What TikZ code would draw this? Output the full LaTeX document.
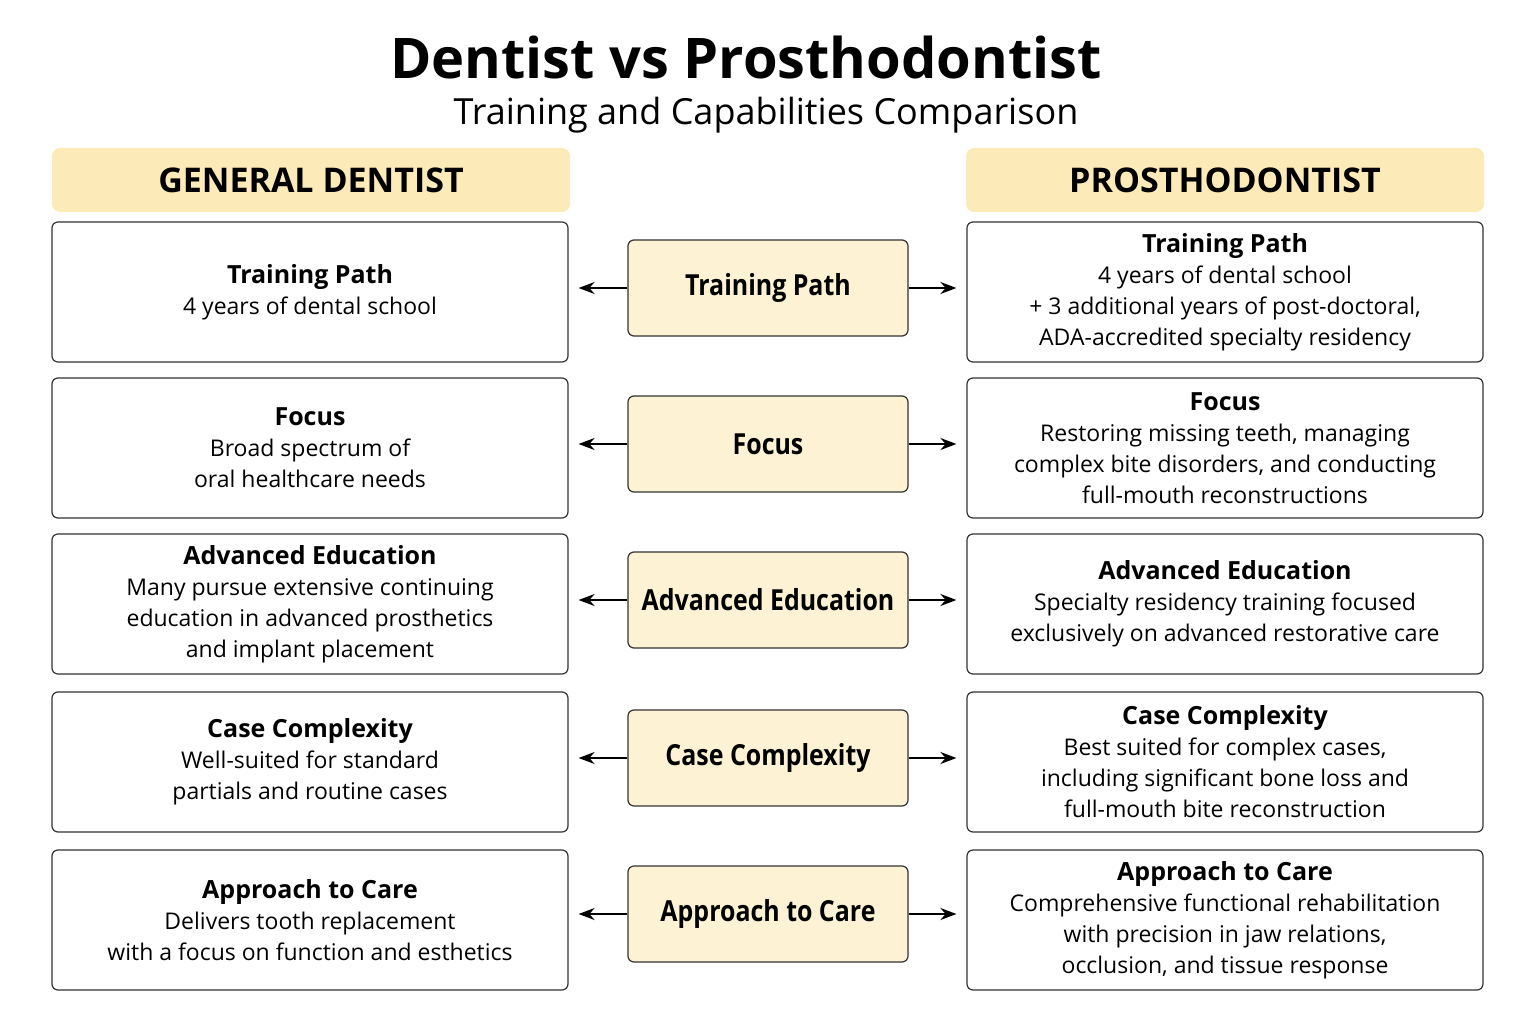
\documentclass[tikz,border=0pt]{standalone}
\usepackage{fontspec}
\setmainfont{Open Sans}
\usetikzlibrary{positioning, arrows.meta}
\definecolor{hdrfill}{HTML}{FCEAB8}
\definecolor{midfill}{HTML}{FDF2D4}
\definecolor{edge}{HTML}{333333}
\newcommand{\cond}[1]{\scalebox{0.86}[1]{#1}}
\begin{document}
\begin{tikzpicture}[x=1pt,y=-1pt,
  side/.style={draw=edge, line width=1.2pt, rounded corners=6pt, fill=white,
    minimum width=516pt, minimum height=140pt, align=center,
    font=\fontsize{23}{31}\selectfont},
  hdr/.style={fill=hdrfill, rounded corners=8pt, minimum width=518pt,
    minimum height=64pt, font=\fontsize{34}{40}\selectfont\bfseries},
  mid/.style={draw=edge, line width=1.2pt, rounded corners=6pt, fill=midfill,
    minimum width=280pt, minimum height=96pt, inner xsep=2pt,
    font=\fontsize{29}{34}\selectfont\bfseries},
  arr/.style={-{Stealth[length=16pt,width=12pt]}, line width=2pt, shorten >=10pt}]
\useasboundingbox (0,0) rectangle (1536,1024);
\fill[white] (0,0) rectangle (1536,1024);

\node (title) at (746,58) {\fontsize{56}{62}\selectfont\bfseries Dentist vs Prosthodontist};
\node (sub) at (766,115) {\fontsize{36}{42}\selectfont Training and Capabilities Comparison};

\node[hdr] (hl) at (311,180) {GENERAL DENTIST};
\node[hdr] (hr) at (1225,180) {PROSTHODONTIST};

% left column
\node[side] (L1) at (310,292) {\textbf{\fontsize{25}{31}\selectfont Training Path}\\4 years of dental school};
\node[side] (L2) at (310,448) {\textbf{\fontsize{25}{31}\selectfont Focus}\\Broad spectrum of\\oral healthcare needs};
\node[side] (L3) at (310,604) {\textbf{\fontsize{25}{31}\selectfont Advanced Education}\\Many pursue extensive continuing\\education in advanced prosthetics\\and implant placement};
\node[side] (L4) at (310,762) {\textbf{\fontsize{25}{31}\selectfont Case Complexity}\\Well-suited for standard\\partials and routine cases};
\node[side] (L5) at (310,920) {\textbf{\fontsize{25}{31}\selectfont Approach to Care}\\Delivers tooth replacement\\with a focus on function and esthetics};

% right column
\node[side] (R1) at (1225,292) {\textbf{\fontsize{25}{31}\selectfont Training Path}\\4 years of dental school\\+ 3 additional years of post-doctoral,\\ADA-accredited specialty residency};
\node[side] (R2) at (1225,448) {\textbf{\fontsize{25}{31}\selectfont Focus}\\Restoring missing teeth, managing\\complex bite disorders, and conducting\\full-mouth reconstructions};
\node[side] (R3) at (1225,604) {\textbf{\fontsize{25}{31}\selectfont Advanced Education}\\Specialty residency training focused\\exclusively on advanced restorative care};
\node[side] (R4) at (1225,762) {\textbf{\fontsize{25}{31}\selectfont Case Complexity}\\Best suited for complex cases,\\including significant bone loss and\\full-mouth bite reconstruction};
\node[side] (R5) at (1225,920) {\textbf{\fontsize{25}{31}\selectfont Approach to Care}\\Comprehensive functional rehabilitation\\with precision in jaw relations,\\occlusion, and tissue response};

% middle column
\node[mid] (C1) at (768,288) {\cond{Training Path}};
\node[mid] (C2) at (768,444) {\cond{Focus}};
\node[mid] (C3) at (768,600) {\cond{Advanced Education}};
\node[mid] (C4) at (768,758) {\cond{Case Complexity}};
\node[mid] (C5) at (768,914) {\cond{Approach to Care}};

\foreach \i in {1,...,5} {
  \draw[arr] (C\i.west) -- (C\i.west -| L\i.east);
  \draw[arr] (C\i.east) -- (C\i.east -| R\i.west);
}
\end{tikzpicture}
\end{document}
